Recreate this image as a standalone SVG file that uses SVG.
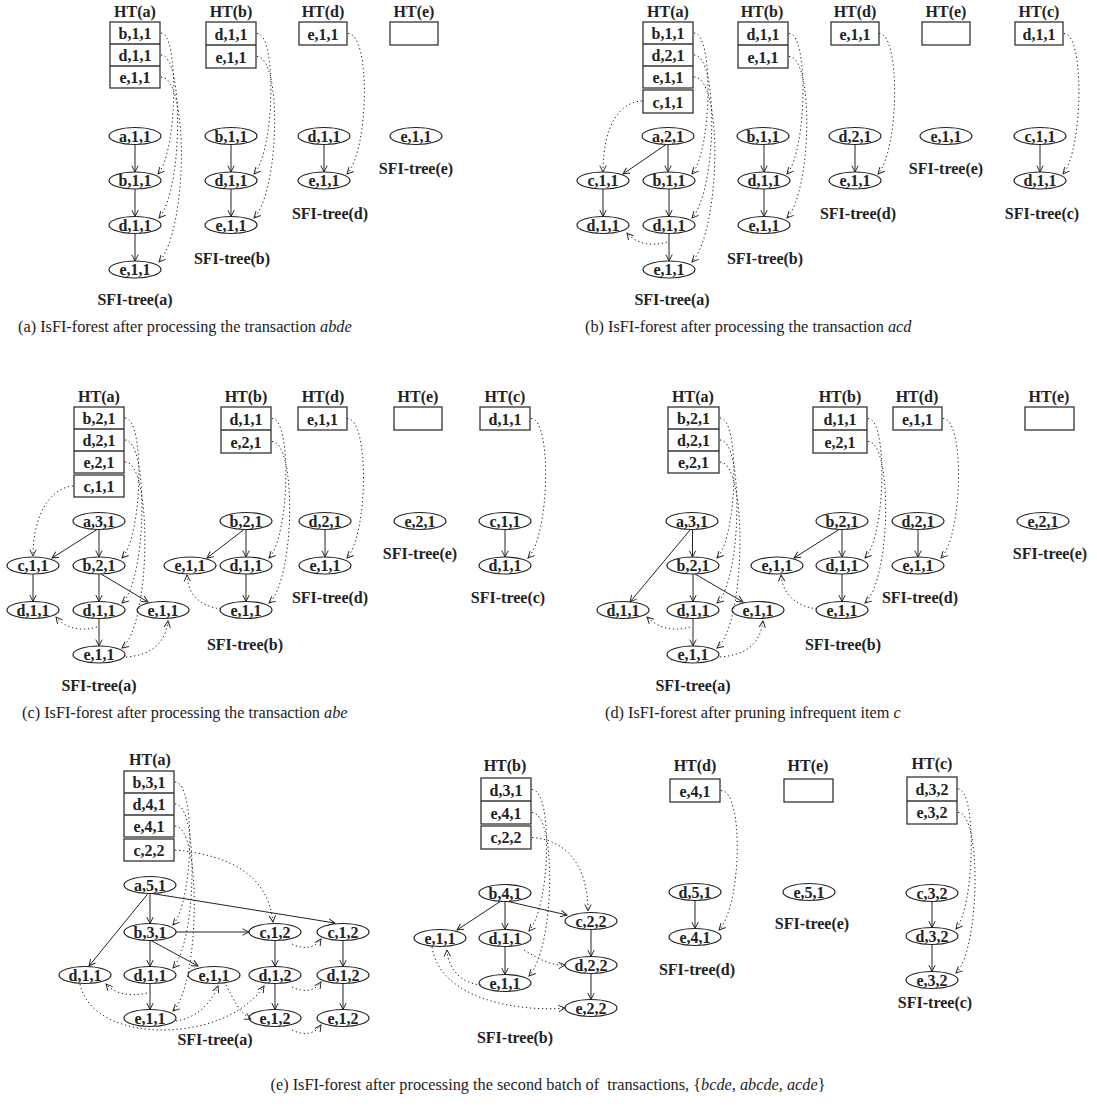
<svg xmlns="http://www.w3.org/2000/svg" width="1097" height="1110" viewBox="0 0 1097 1110">
<style>
.t{font-family:"Liberation Serif","Times New Roman",serif;font-weight:bold;font-size:16px;text-anchor:middle;fill:#222}
.cap{font-family:"Liberation Serif","Times New Roman",serif;font-size:16.3px;fill:#222}
.it{font-style:italic}
ellipse{fill:#fff;stroke:#222;stroke-width:1.2}
.tb{fill:#fff;stroke:#333;stroke-width:1.3}
.rl{stroke:#333;stroke-width:1.3}
.e{stroke:#222;stroke-width:1;fill:none;marker-end:url(#ah)}
.d{stroke:#222;stroke-width:1;stroke-dasharray:1.3 2.7;fill:none;marker-end:url(#ah)}
</style>
<defs>
<marker id="ah" viewBox="0 0 10 10" refX="9" refY="5" markerWidth="8" markerHeight="8" markerUnits="userSpaceOnUse" orient="auto"><path d="M1,1 L9,5 L1,9" fill="none" stroke="#222" stroke-width="1.2"/></marker>
</defs>
<rect width="1097" height="1110" fill="#fff"/>

<!-- ================= Panel (a) ================= -->
<g id="panel-a">
<g id="a-HTa"><text class="t" x="135" y="17">HT(a)</text><rect class="tb" x="110" y="22" width="50" height="66"/><line class="rl" x1="110" y1="44" x2="160" y2="44"/><line class="rl" x1="110" y1="66" x2="160" y2="66"/><text class="t" x="135" y="39">b,1,1</text><text class="t" x="135" y="61">d,1,1</text><text class="t" x="135" y="83">e,1,1</text></g>
<g id="a-HTb"><text class="t" x="231" y="17">HT(b)</text><rect class="tb" x="206" y="22" width="50" height="46"/><line class="rl" x1="206" y1="45" x2="256" y2="45"/><text class="t" x="231" y="39.5">d,1,1</text><text class="t" x="231" y="62.5">e,1,1</text></g>
<g id="a-HTd"><text class="t" x="323" y="17">HT(d)</text><rect class="tb" x="299" y="22" width="48" height="23"/><text class="t" x="323" y="39.5">e,1,1</text></g>
<g id="a-HTe"><text class="t" x="414" y="17">HT(e)</text><rect class="tb" x="390" y="22" width="48" height="23"/></g>
<g id="a-n1"><ellipse cx="135" cy="136" rx="26" ry="8.5"/><text class="t" x="135" y="141.5">a,1,1</text></g>
<g id="a-n2"><ellipse cx="135" cy="180.5" rx="26" ry="8.5"/><text class="t" x="135" y="186">b,1,1</text></g>
<g id="a-n3"><ellipse cx="135" cy="225" rx="26" ry="8.5"/><text class="t" x="135" y="230.5">d,1,1</text></g>
<g id="a-n4"><ellipse cx="135" cy="269.5" rx="26" ry="8.5"/><text class="t" x="135" y="275">e,1,1</text></g>
<text class="t" x="135" y="305">SFI-tree(a)</text>
<g id="a-n5"><ellipse cx="231" cy="136" rx="26" ry="8.5"/><text class="t" x="231" y="141.5">b,1,1</text></g>
<g id="a-n6"><ellipse cx="231" cy="180.5" rx="26" ry="8.5"/><text class="t" x="231" y="186">d,1,1</text></g>
<g id="a-n7"><ellipse cx="231" cy="225" rx="26" ry="8.5"/><text class="t" x="231" y="230.5">e,1,1</text></g>
<text class="t" x="232" y="264">SFI-tree(b)</text>
<g id="a-n8"><ellipse cx="324" cy="136" rx="26" ry="8.5"/><text class="t" x="324" y="141.5">d,1,1</text></g>
<g id="a-n9"><ellipse cx="324" cy="180.5" rx="26" ry="8.5"/><text class="t" x="324" y="186">e,1,1</text></g>
<text class="t" x="330" y="219">SFI-tree(d)</text>
<g id="a-n10"><ellipse cx="416" cy="136" rx="26" ry="8.5"/><text class="t" x="416" y="141.5">e,1,1</text></g>
<text class="t" x="416" y="174">SFI-tree(e)</text>
<text class="cap" x="18" y="332">(a) IsFI-forest after processing the transaction <tspan class="it">abde</tspan></text>
</g>

<!-- ================= Panel (b) ================= -->
<g id="panel-b">
<g id="b-HTa"><text class="t" x="668" y="17">HT(a)</text><rect class="tb" x="643" y="22" width="50" height="66"/><line class="rl" x1="643" y1="44" x2="693" y2="44"/><line class="rl" x1="643" y1="66" x2="693" y2="66"/><text class="t" x="668" y="39">b,1,1</text><text class="t" x="668" y="61">d,2,1</text><text class="t" x="668" y="83">e,1,1</text><rect class="tb" x="643" y="90" width="50" height="23"/><text class="t" x="668" y="107.5">c,1,1</text></g>
<g id="b-HTb"><text class="t" x="762" y="17">HT(b)</text><rect class="tb" x="738" y="22" width="50" height="46"/><line class="rl" x1="738" y1="45" x2="788" y2="45"/><text class="t" x="763" y="39.5">d,1,1</text><text class="t" x="763" y="62.5">e,1,1</text></g>
<g id="b-HTd"><text class="t" x="855" y="17">HT(d)</text><rect class="tb" x="831" y="22" width="48" height="23"/><text class="t" x="855" y="39.5">e,1,1</text></g>
<g id="b-HTe"><text class="t" x="946" y="17">HT(e)</text><rect class="tb" x="922" y="22" width="48" height="23"/></g>
<g id="b-HTc"><text class="t" x="1039" y="17">HT(c)</text><rect class="tb" x="1015" y="22" width="48" height="23"/><text class="t" x="1039" y="39.5">d,1,1</text></g>
<g id="b-n1"><ellipse cx="668" cy="136" rx="26" ry="8.5"/><text class="t" x="668" y="141.5">a,2,1</text></g>
<g id="b-n2"><ellipse cx="603" cy="180.5" rx="26" ry="8.5"/><text class="t" x="603" y="186">c,1,1</text></g>
<g id="b-n3"><ellipse cx="669" cy="180.5" rx="26" ry="8.5"/><text class="t" x="669" y="186">b,1,1</text></g>
<g id="b-n4"><ellipse cx="603" cy="225" rx="26" ry="8.5"/><text class="t" x="603" y="230.5">d,1,1</text></g>
<g id="b-n5"><ellipse cx="669" cy="225" rx="26" ry="8.5"/><text class="t" x="669" y="230.5">d,1,1</text></g>
<g id="b-n6"><ellipse cx="669" cy="269.5" rx="26" ry="8.5"/><text class="t" x="669" y="275">e,1,1</text></g>
<text class="t" x="672" y="305">SFI-tree(a)</text>
<g id="b-n7"><ellipse cx="763" cy="136" rx="26" ry="8.5"/><text class="t" x="763" y="141.5">b,1,1</text></g>
<g id="b-n8"><ellipse cx="764" cy="180.5" rx="26" ry="8.5"/><text class="t" x="764" y="186">d,1,1</text></g>
<g id="b-n9"><ellipse cx="764" cy="225" rx="26" ry="8.5"/><text class="t" x="764" y="230.5">e,1,1</text></g>
<text class="t" x="765" y="264">SFI-tree(b)</text>
<g id="b-n10"><ellipse cx="855" cy="136" rx="26" ry="8.5"/><text class="t" x="855" y="141.5">d,2,1</text></g>
<g id="b-n11"><ellipse cx="855" cy="180.5" rx="26" ry="8.5"/><text class="t" x="855" y="186">e,1,1</text></g>
<text class="t" x="858" y="219">SFI-tree(d)</text>
<g id="b-n12"><ellipse cx="946" cy="136" rx="26" ry="8.5"/><text class="t" x="946" y="141.5">e,1,1</text></g>
<text class="t" x="946" y="174">SFI-tree(e)</text>
<g id="b-n13"><ellipse cx="1040" cy="136" rx="26" ry="8.5"/><text class="t" x="1040" y="141.5">c,1,1</text></g>
<g id="b-n14"><ellipse cx="1040" cy="180.5" rx="26" ry="8.5"/><text class="t" x="1040" y="186">d,1,1</text></g>
<text class="t" x="1042" y="219">SFI-tree(c)</text>
<text class="cap" x="585" y="332">(b) IsFI-forest after processing the transaction <tspan class="it">acd</tspan></text>
</g>

<!-- ================= Panel (c) ================= -->
<g id="panel-c">
<g id="c-HTa"><text class="t" x="99" y="402">HT(a)</text><rect class="tb" x="74" y="407" width="50" height="66"/><line class="rl" x1="74" y1="429" x2="124" y2="429"/><line class="rl" x1="74" y1="451" x2="124" y2="451"/><text class="t" x="99" y="424">b,2,1</text><text class="t" x="99" y="446">d,2,1</text><text class="t" x="99" y="468">e,2,1</text><rect class="tb" x="74" y="475" width="50" height="22"/><text class="t" x="99" y="491.5">c,1,1</text></g>
<g id="c-HTb"><text class="t" x="246" y="402">HT(b)</text><rect class="tb" x="221" y="407" width="50" height="46"/><line class="rl" x1="221" y1="430" x2="271" y2="430"/><text class="t" x="246" y="424.5">d,1,1</text><text class="t" x="246" y="447.5">e,2,1</text></g>
<g id="c-HTd"><text class="t" x="323" y="402">HT(d)</text><rect class="tb" x="298" y="407" width="49" height="23"/><text class="t" x="322.5" y="424.5">e,1,1</text></g>
<g id="c-HTe"><text class="t" x="418" y="402">HT(e)</text><rect class="tb" x="394" y="407" width="48" height="23"/></g>
<g id="c-HTc"><text class="t" x="505" y="402">HT(c)</text><rect class="tb" x="480" y="407" width="50" height="23"/><text class="t" x="505" y="424.5">d,1,1</text></g>
<g id="c-n1"><ellipse cx="99" cy="521" rx="26" ry="8.5"/><text class="t" x="99" y="526.5">a,3,1</text></g>
<g id="c-n2"><ellipse cx="33" cy="565.5" rx="26" ry="8.5"/><text class="t" x="33" y="571">c,1,1</text></g>
<g id="c-n3"><ellipse cx="99" cy="565.5" rx="26" ry="8.5"/><text class="t" x="99" y="571">b,2,1</text></g>
<g id="c-n4"><ellipse cx="33" cy="610" rx="26" ry="8.5"/><text class="t" x="33" y="615.5">d,1,1</text></g>
<g id="c-n5"><ellipse cx="99" cy="610" rx="26" ry="8.5"/><text class="t" x="99" y="615.5">d,1,1</text></g>
<g id="c-n6"><ellipse cx="163" cy="610" rx="26" ry="8.5"/><text class="t" x="163" y="615.5">e,1,1</text></g>
<g id="c-n7"><ellipse cx="99" cy="654.5" rx="26" ry="8.5"/><text class="t" x="99" y="660">e,1,1</text></g>
<text class="t" x="99" y="691">SFI-tree(a)</text>
<g id="c-n8"><ellipse cx="246" cy="521" rx="26" ry="8.5"/><text class="t" x="246" y="526.5">b,2,1</text></g>
<g id="c-n9"><ellipse cx="190" cy="565.5" rx="26" ry="8.5"/><text class="t" x="190" y="571">e,1,1</text></g>
<g id="c-n10"><ellipse cx="246" cy="565.5" rx="26" ry="8.5"/><text class="t" x="246" y="571">d,1,1</text></g>
<g id="c-n11"><ellipse cx="246" cy="610" rx="26" ry="8.5"/><text class="t" x="246" y="615.5">e,1,1</text></g>
<text class="t" x="245" y="650">SFI-tree(b)</text>
<g id="c-n12"><ellipse cx="325" cy="521" rx="26" ry="8.5"/><text class="t" x="325" y="526.5">d,2,1</text></g>
<g id="c-n13"><ellipse cx="325" cy="565.5" rx="26" ry="8.5"/><text class="t" x="325" y="571">e,1,1</text></g>
<text class="t" x="330" y="603">SFI-tree(d)</text>
<g id="c-n14"><ellipse cx="420" cy="521" rx="26" ry="8.5"/><text class="t" x="420" y="526.5">e,2,1</text></g>
<text class="t" x="420" y="559">SFI-tree(e)</text>
<g id="c-n15"><ellipse cx="505" cy="521" rx="26" ry="8.5"/><text class="t" x="505" y="526.5">c,1,1</text></g>
<g id="c-n16"><ellipse cx="505" cy="565.5" rx="26" ry="8.5"/><text class="t" x="505" y="571">d,1,1</text></g>
<text class="t" x="508" y="603">SFI-tree(c)</text>
<text class="cap" x="22" y="718">(c) IsFI-forest after processing the transaction <tspan class="it">abe</tspan></text>
</g>

<!-- ================= Panel (d) ================= -->
<g id="panel-d">
<g id="d-HTa"><text class="t" x="693" y="402">HT(a)</text><rect class="tb" x="668" y="407" width="51" height="66"/><line class="rl" x1="668" y1="429" x2="719" y2="429"/><line class="rl" x1="668" y1="451" x2="719" y2="451"/><text class="t" x="693.5" y="424">b,2,1</text><text class="t" x="693.5" y="446">d,2,1</text><text class="t" x="693.5" y="468">e,2,1</text></g>
<g id="d-HTb"><text class="t" x="840" y="402">HT(b)</text><rect class="tb" x="813" y="407" width="54" height="46"/><line class="rl" x1="813" y1="430" x2="867" y2="430"/><text class="t" x="840" y="424.5">d,1,1</text><text class="t" x="840" y="447.5">e,2,1</text></g>
<g id="d-HTd"><text class="t" x="917" y="402">HT(d)</text><rect class="tb" x="893" y="407" width="49" height="23"/><text class="t" x="917.5" y="424.5">e,1,1</text></g>
<g id="d-HTe"><text class="t" x="1049" y="402">HT(e)</text><rect class="tb" x="1025" y="407" width="49" height="23"/></g>
<g id="d-n1"><ellipse cx="692" cy="521" rx="26" ry="8.5"/><text class="t" x="692" y="526.5">a,3,1</text></g>
<g id="d-n2"><ellipse cx="693" cy="565.5" rx="26" ry="8.5"/><text class="t" x="693" y="571">b,2,1</text></g>
<g id="d-n3"><ellipse cx="623" cy="610" rx="26" ry="8.5"/><text class="t" x="623" y="615.5">d,1,1</text></g>
<g id="d-n4"><ellipse cx="693" cy="610" rx="26" ry="8.5"/><text class="t" x="693" y="615.5">d,1,1</text></g>
<g id="d-n5"><ellipse cx="758" cy="610" rx="26" ry="8.5"/><text class="t" x="758" y="615.5">e,1,1</text></g>
<g id="d-n6"><ellipse cx="693" cy="654.5" rx="26" ry="8.5"/><text class="t" x="693" y="660">e,1,1</text></g>
<text class="t" x="693" y="691">SFI-tree(a)</text>
<g id="d-n7"><ellipse cx="842" cy="521" rx="26" ry="8.5"/><text class="t" x="842" y="526.5">b,2,1</text></g>
<g id="d-n8"><ellipse cx="777" cy="565.5" rx="26" ry="8.5"/><text class="t" x="777" y="571">e,1,1</text></g>
<g id="d-n9"><ellipse cx="842" cy="565.5" rx="26" ry="8.5"/><text class="t" x="842" y="571">d,1,1</text></g>
<g id="d-n10"><ellipse cx="842" cy="610" rx="26" ry="8.5"/><text class="t" x="842" y="615.5">e,1,1</text></g>
<text class="t" x="843" y="650">SFI-tree(b)</text>
<g id="d-n11"><ellipse cx="918" cy="521" rx="26" ry="8.5"/><text class="t" x="918" y="526.5">d,2,1</text></g>
<g id="d-n12"><ellipse cx="918" cy="565.5" rx="26" ry="8.5"/><text class="t" x="918" y="571">e,1,1</text></g>
<text class="t" x="920" y="603">SFI-tree(d)</text>
<g id="d-n13"><ellipse cx="1043" cy="521" rx="26" ry="8.5"/><text class="t" x="1043" y="526.5">e,2,1</text></g>
<text class="t" x="1050" y="559">SFI-tree(e)</text>
<text class="cap" x="605" y="718">(d) IsFI-forest after pruning infrequent item <tspan class="it">c</tspan></text>
</g>

<!-- ================= Panel (e) ================= -->
<g id="panel-e">
<g id="e-HTa"><text class="t" x="150" y="765">HT(a)</text><rect class="tb" x="124" y="771" width="50" height="66"/><line class="rl" x1="124" y1="793" x2="174" y2="793"/><line class="rl" x1="124" y1="815" x2="174" y2="815"/><text class="t" x="149" y="788">b,3,1</text><text class="t" x="149" y="810">d,4,1</text><text class="t" x="149" y="832">e,4,1</text><rect class="tb" x="124" y="839" width="50" height="22"/><text class="t" x="149" y="855.5">c,2,2</text></g>
<g id="e-HTb"><text class="t" x="505" y="771">HT(b)</text><rect class="tb" x="481" y="778" width="50" height="46"/><line class="rl" x1="481" y1="801" x2="531" y2="801"/><text class="t" x="506" y="795.5">d,3,1</text><text class="t" x="506" y="818.5">e,4,1</text><rect class="tb" x="481" y="826" width="50" height="23"/><text class="t" x="506" y="843">c,2,2</text></g>
<g id="e-HTd"><text class="t" x="695" y="771">HT(d)</text><rect class="tb" x="670" y="779" width="50" height="23"/><text class="t" x="695" y="796.5">e,4,1</text></g>
<g id="e-HTe"><text class="t" x="808" y="771">HT(e)</text><rect class="tb" x="784" y="779" width="49" height="23"/></g>
<g id="e-HTc"><text class="t" x="932" y="769">HT(c)</text><rect class="tb" x="907" y="777" width="50" height="47"/><line class="rl" x1="907" y1="801" x2="957" y2="801"/><text class="t" x="932" y="795">d,3,2</text><text class="t" x="932" y="818">e,3,2</text></g>
<g id="e-n1"><ellipse cx="150" cy="885" rx="26" ry="8.5"/><text class="t" x="150" y="890.5">a,5,1</text></g>
<g id="e-n2"><ellipse cx="150" cy="932" rx="26" ry="8.5"/><text class="t" x="150" y="937.5">b,3,1</text></g>
<g id="e-n3"><ellipse cx="85" cy="975" rx="26" ry="8.5"/><text class="t" x="85" y="980.5">d,1,1</text></g>
<g id="e-n4"><ellipse cx="150" cy="975" rx="26" ry="8.5"/><text class="t" x="150" y="980.5">d,1,1</text></g>
<g id="e-n5"><ellipse cx="214" cy="975" rx="26" ry="8.5"/><text class="t" x="214" y="980.5">e,1,1</text></g>
<g id="e-n6"><ellipse cx="150" cy="1018" rx="26" ry="8.5"/><text class="t" x="150" y="1023.5">e,1,1</text></g>
<g id="e-n7"><ellipse cx="275" cy="932" rx="26" ry="8.5"/><text class="t" x="275" y="937.5">c,1,2</text></g>
<g id="e-n8"><ellipse cx="343" cy="932" rx="26" ry="8.5"/><text class="t" x="343" y="937.5">c,1,2</text></g>
<g id="e-n9"><ellipse cx="275" cy="975" rx="26" ry="8.5"/><text class="t" x="275" y="980.5">d,1,2</text></g>
<g id="e-n10"><ellipse cx="343" cy="975" rx="26" ry="8.5"/><text class="t" x="343" y="980.5">d,1,2</text></g>
<g id="e-n11"><ellipse cx="275" cy="1018" rx="26" ry="8.5"/><text class="t" x="275" y="1023.5">e,1,2</text></g>
<g id="e-n12"><ellipse cx="343" cy="1018" rx="26" ry="8.5"/><text class="t" x="343" y="1023.5">e,1,2</text></g>
<text class="t" x="215" y="1045">SFI-tree(a)</text>
<g id="e-n13"><ellipse cx="505" cy="893" rx="26" ry="8.5"/><text class="t" x="505" y="898.5">b,4,1</text></g>
<g id="e-n14"><ellipse cx="440" cy="938" rx="26" ry="8.5"/><text class="t" x="440" y="943.5">e,1,1</text></g>
<g id="e-n15"><ellipse cx="505" cy="938" rx="26" ry="8.5"/><text class="t" x="505" y="943.5">d,1,1</text></g>
<g id="e-n16"><ellipse cx="591" cy="921" rx="26" ry="8.5"/><text class="t" x="591" y="926.5">c,2,2</text></g>
<g id="e-n17"><ellipse cx="591" cy="965" rx="26" ry="8.5"/><text class="t" x="591" y="970.5">d,2,2</text></g>
<g id="e-n18"><ellipse cx="505" cy="983" rx="26" ry="8.5"/><text class="t" x="505" y="988.5">e,1,1</text></g>
<g id="e-n19"><ellipse cx="591" cy="1008" rx="26" ry="8.5"/><text class="t" x="591" y="1013.5">e,2,2</text></g>
<text class="t" x="515" y="1043">SFI-tree(b)</text>
<g id="e-n20"><ellipse cx="695" cy="892" rx="26" ry="8.5"/><text class="t" x="695" y="897.5">d,5,1</text></g>
<g id="e-n21"><ellipse cx="695" cy="937" rx="26" ry="8.5"/><text class="t" x="695" y="942.5">e,4,1</text></g>
<text class="t" x="697" y="975">SFI-tree(d)</text>
<g id="e-n22"><ellipse cx="809" cy="892" rx="26" ry="8.5"/><text class="t" x="809" y="897.5">e,5,1</text></g>
<text class="t" x="812" y="929">SFI-tree(e)</text>
<g id="e-n23"><ellipse cx="932" cy="893" rx="26" ry="8.5"/><text class="t" x="932" y="898.5">c,3,2</text></g>
<g id="e-n24"><ellipse cx="932" cy="936" rx="26" ry="8.5"/><text class="t" x="932" y="941.5">d,3,2</text></g>
<g id="e-n25"><ellipse cx="932" cy="980" rx="26" ry="8.5"/><text class="t" x="932" y="985.5">e,3,2</text></g>
<text class="t" x="935" y="1008">SFI-tree(c)</text>
<text class="cap" x="548" y="1090" text-anchor="middle" xml:space="preserve">(e) IsFI-forest after processing the second batch of  transactions, {<tspan class="it">bcde</tspan>, <tspan class="it">abcde, acde</tspan>}</text>
</g>

<!-- ================= Connectors ================= -->
<g id="connectors">
<path class="e" d="M135,144.5 V172"/><path class="e" d="M135,189 V216.5"/><path class="e" d="M135,233.5 V261"/>
<path class="e" d="M231,144.5 V172"/><path class="e" d="M231,189 V216.5"/>
<path class="e" d="M324,144.5 V172"/>
<path class="d" d="M161,33 C179,33 178,150 158,174"/>
<path class="d" d="M161,55 C184,55 183,190 159,218"/>
<path class="d" d="M161,77 C189,77 188,230 159,262"/>
<path class="d" d="M257,33.5 C277,33.5 275,150 254,174"/>
<path class="d" d="M257,56.5 C282,56.5 280,190 254,218"/>
<path class="d" d="M348,33.5 C371,33.5 369,150 347,174"/>

<path class="e" d="M668,144.5 V172"/><path class="e" d="M666,144.5 L623,174"/>
<path class="e" d="M603,189 V216.5"/><path class="e" d="M669,189 V216.5"/><path class="e" d="M669,233.5 V261"/>
<path class="e" d="M764,144.5 V172"/><path class="e" d="M764,189 V216.5"/>
<path class="e" d="M855,144.5 V172"/>
<path class="e" d="M1040,144.5 V172"/>
<path class="d" d="M694,33 C714,33 712,150 692,174"/>
<path class="d" d="M694,55 C719,55 717,190 692,218"/>
<path class="d" d="M667,242 C650,247 635,243 627,233"/>
<path class="d" d="M694,77 C723,77 721,230 692,262"/>
<path class="d" d="M642,101 C620,102 603,125 603,172"/>
<path class="d" d="M789,33.5 C809,33.5 807,150 787,174"/>
<path class="d" d="M789,56.5 C814,56.5 812,190 787,218"/>
<path class="d" d="M879,33.5 C901,33.5 899,150 878,174"/>
<path class="d" d="M1064,33.5 C1085,33.5 1083,150 1063,174"/>

<path class="e" d="M99,529.5 V557"/><path class="e" d="M97,529.5 L52,558"/>
<path class="e" d="M33,574 V601.5"/><path class="e" d="M99,574 V601.5"/><path class="e" d="M101,574 L148,602"/><path class="e" d="M99,618.5 V646"/>
<path class="e" d="M244,529.5 L207,558"/><path class="e" d="M246,529.5 V557"/><path class="e" d="M246,574 V601.5"/>
<path class="e" d="M325,529.5 V557"/>
<path class="e" d="M505,529.5 V557"/>
<path class="d" d="M125,418 C145,418 143,535 122,558"/>
<path class="d" d="M125,440 C149,440 147,580 122,603"/>
<path class="d" d="M97,627 C80,632 65,628 56,617"/>
<path class="d" d="M125,462 C153,462 151,625 122,648"/>
<path class="d" d="M126,657 C150,655 165,645 168,621"/>
<path class="d" d="M73,486 C50,488 33,515 33,556"/>
<path class="d" d="M272,418.5 C292,418.5 290,535 269,558"/>
<path class="d" d="M272,441.5 C297,441.5 295,580 269,603"/>
<path class="d" d="M221,609 C200,606 188,595 187,575"/>
<path class="d" d="M347,418.5 C370,418.5 368,535 347,558"/>
<path class="d" d="M531,418.5 C552,418.5 550,535 528,558"/>

<path class="e" d="M692.5,529.5 V557"/><path class="e" d="M690,530 L630,602"/>
<path class="e" d="M693,574 V601.5"/><path class="e" d="M695,574 L743,602"/><path class="e" d="M693,618.5 V646"/>
<path class="e" d="M839,529.5 L794,558"/><path class="e" d="M842,529.5 V557"/><path class="e" d="M842,574 V601.5"/>
<path class="e" d="M918,529.5 V557"/>
<path class="d" d="M720,418 C740,418 738,535 717,558"/>
<path class="d" d="M720,440 C744,440 742,580 717,603"/>
<path class="d" d="M690,627 C673,632 658,628 647,617"/>
<path class="d" d="M720,462 C748,462 746,625 717,648"/>
<path class="d" d="M720,657 C745,655 760,645 763,621"/>
<path class="d" d="M868,418.5 C888,418.5 886,535 865,558"/>
<path class="d" d="M868,441.5 C893,441.5 891,580 865,603"/>
<path class="d" d="M817,609 C796,606 783,595 781,575"/>
<path class="d" d="M943,418.5 C965,418.5 963,535 941,558"/>

<path class="e" d="M150,893.5 V923.5"/><path class="e" d="M148,893.5 L89,966"/><path class="e" d="M152,893.5 L335,923"/>
<path class="e" d="M176,932 H249"/><path class="e" d="M150,940.5 V966.5"/><path class="e" d="M151,940.5 L198,966"/><path class="e" d="M150,983.5 V1009.5"/>
<path class="e" d="M275,940.5 V966.5"/><path class="e" d="M275,983.5 V1009.5"/>
<path class="e" d="M343,940.5 V966.5"/><path class="e" d="M343,983.5 V1009.5"/>
<path class="e" d="M501,901 L457,930"/><path class="e" d="M505,901.5 V929.5"/><path class="e" d="M508,901.5 L567,915"/>
<path class="e" d="M591,929.5 V956.5"/><path class="e" d="M591,973.5 V999.5"/><path class="e" d="M505,946.5 V974.5"/>
<path class="e" d="M695,900.5 V928.5"/>
<path class="e" d="M932,901.5 V927.5"/><path class="e" d="M932,944.5 V971.5"/>
<path class="d" d="M175,782 C196,782 194,900 173,925"/>
<path class="d" d="M175,804 C199,804 197,940 173,968"/>
<path class="d" d="M175,826 C202,826 200,985 173,1011"/>
<path class="d" d="M175,850 C230,855 268,875 273,922"/>
<path class="d" d="M147,993 C130,997 115,994 106,984"/>
<path class="d" d="M80,984 C92,1045 225,1045 264,986"/>
<path class="d" d="M176,1021 C196,1018 211,1004 218,986"/>
<path class="d" d="M226,985 C234,1000 240,1014 251,1019"/>
<path class="d" d="M292,944 C304,950 315,948 321,939"/>
<path class="d" d="M292,987 C304,993 315,991 321,982"/>
<path class="d" d="M292,1030 C304,1036 315,1034 321,1025"/>
<path class="d" d="M532,789.5 C553,789.5 551,905 529,931"/>
<path class="d" d="M532,812.5 C557,812.5 555,948 529,976"/>
<path class="d" d="M532,837.5 C570,840 588,870 588,911"/>
<path class="d" d="M524,950 C540,960 553,966 565,965"/>
<path class="d" d="M481,985 C460,983 448,968 447,950"/>
<path class="d" d="M432,947 C440,1000 520,1012 565,1008"/>
<path class="d" d="M721,790.5 C744,790.5 742,905 719,930"/>
<path class="d" d="M958,789 C977,789 975,905 956,929"/>
<path class="d" d="M958,812.5 C982,812.5 980,950 956,973"/>
</g>
</svg>
